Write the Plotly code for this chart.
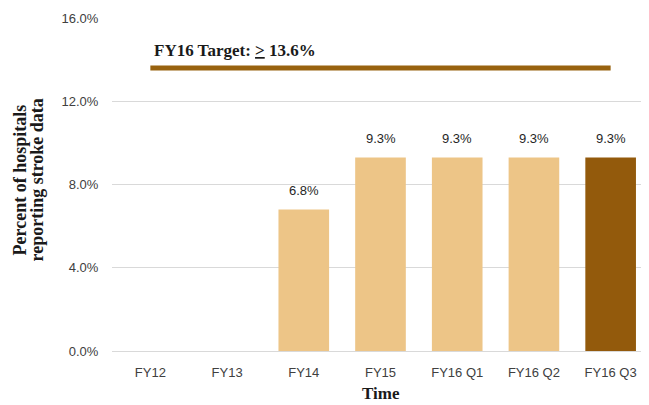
import plotly.graph_objects as go

categories = ["FY12", "FY13", "FY14", "FY15", "FY16 Q1", "FY16 Q2", "FY16 Q3"]
values = [None, None, 6.8, 9.3, 9.3, 9.3, 9.3]
bar_colors = ["#EDC587", "#EDC587", "#EDC587", "#EDC587", "#EDC587", "#EDC587", "#935A0C"]
target_value = 13.6
target_label = "FY16 Target: <u>&gt;</u> 13.6%"
y_ticks = [0, 4, 8, 12, 16]
y_tick_labels = ["0.0%", "4.0%", "8.0%", "12.0%", "16.0%"]
x_title = "Time"
y_title_lines = ["Percent of hospitals", "reporting stroke data"]

serif = "Liberation Serif, DejaVu Serif"
sans = "Liberation Sans, Arial"

fig = go.Figure()
fig.add_trace(go.Bar(
    x=categories, y=values, marker=dict(color=bar_colors, line=dict(width=0)),
    hoverinfo="skip",
))
fig.add_trace(go.Scatter(
    x=[categories[0], categories[-1]], y=[target_value, target_value],
    mode="lines", line=dict(color="#98620F", width=5),
    hoverinfo="skip",
))

for c, v in zip(categories, values):
    if v is None:
        continue
    fig.add_annotation(
        x=c, y=v, xref="x", yref="y", text=f"{v:.1f}%", showarrow=False,
        yanchor="bottom", yshift=9,
        font=dict(family=sans, size=13, color="#262626"),
    )

fig.add_annotation(
    x=categories[0], y=target_value, xref="x", yref="y",
    text="<b>" + target_label + "</b>", showarrow=False,
    xanchor="left", yanchor="bottom", xshift=2, yshift=6,
    font=dict(family=serif, size=17, color="#1a1a1a"),
)
fig.add_annotation(
    x=0.5, y=0, xref="paper", yref="paper", text="<b>" + x_title + "</b>",
    showarrow=False, xanchor="center", yanchor="middle", yshift=-42,
    font=dict(family=serif, size=17, color="#1a1a1a"),
)
for line, xs in zip(y_title_lines, [-93, -76]):
    fig.add_annotation(
        x=0, y=0.5, xref="paper", yref="paper", text="<b>" + line + "</b>",
        showarrow=False, xanchor="center", yanchor="middle", xshift=xs, yshift=4,
        textangle=-90,
        font=dict(family=serif, size=18, color="#1a1a1a"),
    )

# page body has an 8px default margin, so the figure is sized to fit the window
fig.update_layout(
    width=641, height=397,
    margin=dict(l=104, r=0, t=10, b=54),
    paper_bgcolor="white", plot_bgcolor="white",
    showlegend=False, bargap=0.34,
    xaxis=dict(
        type="category", showgrid=False, zeroline=False, showline=False,
        automargin=False,
        ticks="outside", ticklen=9, tickcolor="rgba(0,0,0,0)",
        tickfont=dict(family=sans, size=13, color="#404040"),
    ),
    yaxis=dict(
        range=[0, 16], tickvals=y_ticks, ticktext=y_tick_labels,
        automargin=False,
        showgrid=True, gridcolor="#D9D9D9", gridwidth=1,
        zeroline=True, zerolinecolor="#D9D9D9", zerolinewidth=1,
        showline=False, ticks="outside", ticklen=10, tickcolor="rgba(0,0,0,0)",
        tickfont=dict(family=sans, size=13, color="#404040"),
    ),
)

fig.write_html("out.html")
